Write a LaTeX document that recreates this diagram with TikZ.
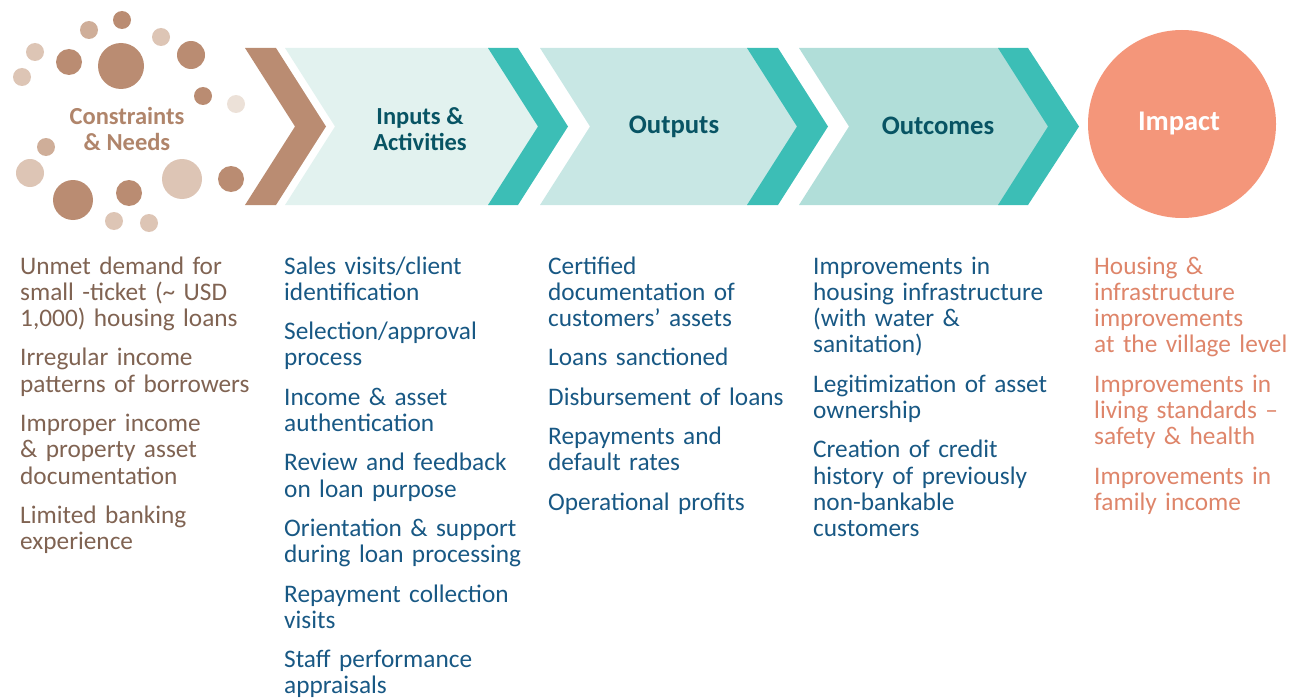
\documentclass[tikz,border=0pt]{standalone}
\usepackage{fontspec}
\setmainfont{Carlito}
\usepackage{xcolor}
\usepackage{tikz}

\definecolor{brownDark}{RGB}{186,140,114}
\definecolor{brownMid}{RGB}{207,174,153}
\definecolor{brownLight}{RGB}{221,197,181}
\definecolor{brownPale}{RGB}{236,225,216}
\definecolor{brownHead}{RGB}{176,133,107}
\definecolor{brownText}{RGB}{128,99,82}
\definecolor{tealDark}{RGB}{60,190,182}
\definecolor{tealHead}{RGB}{8,84,100}
\definecolor{blueText}{RGB}{24,88,132}
\definecolor{fillIn}{RGB}{226,242,239}
\definecolor{fillOut}{RGB}{200,231,228}
\definecolor{fillOutc}{RGB}{177,222,217}
\definecolor{impactFill}{RGB}{244,150,122}
\definecolor{impactText}{RGB}{222,133,106}

\begin{document}
\begin{tikzpicture}[
  x=1pt, y=-1pt,
  headnode/.style={
    align=center,
    inner sep=0pt,
    font=\fontsize{24.5}{26}\selectfont\bfseries,
    text=tealHead
  },
  bighead/.style={
    headnode,
    font=\fontsize{26.7}{28}\selectfont\bfseries
  },
  listnode/.style={
    align=left,
    anchor=base west,
    inner sep=0pt,
    text width=300pt,
    font=\fontsize{25.3}{26.3}\selectfont
  }
]
\useasboundingbox (0,0) rectangle (1297,698);

% Dots
\fill[brownDark]  (122,20) circle (9);
\fill[brownMid]   (89,30) circle (9);
\fill[brownLight] (161,37) circle (9);
\fill[brownLight] (35,52) circle (9);
\fill[brownDark]  (69,62) circle (13);
\fill[brownDark]  (121,66) circle (23);
\fill[brownDark]  (191,55) circle (14);
\fill[brownLight] (22,77) circle (9);
\fill[brownDark]  (203,96) circle (9);
\fill[brownPale]  (236,104) circle (9);
\fill[brownMid]   (46,147) circle (9);
\fill[brownLight] (30,173) circle (14);
\fill[brownLight] (182,179) circle (20);
\fill[brownDark]  (231,179) circle (13);
\fill[brownDark]  (73,200) circle (20);
\fill[brownDark]  (129,193) circle (13);
\fill[brownLight] (114,221) circle (9);
\fill[brownLight] (149,223) circle (9);

% Chevrons
\fill[brownDark] (245,48) -- (276,48) -- (326,126.5) -- (276,205) -- (245,205) -- (295,126.5) -- cycle;
\fill[fillIn] (285,48) -- (490,48) -- (540,126.5) -- (490,205) -- (285,205) -- (335,126.5) -- cycle;
\fill[tealDark] (488,48) -- (518,48) -- (568,126.5) -- (518,205) -- (488,205) -- (538,126.5) -- cycle;
\fill[fillOut] (540,48) -- (749,48) -- (799,126.5) -- (749,205) -- (540,205) -- (590,126.5) -- cycle;
\fill[tealDark] (747,48) -- (778,48) -- (828,126.5) -- (778,205) -- (747,205) -- (797,126.5) -- cycle;
\fill[fillOutc] (799,48) -- (1000,48) -- (1050,126.5) -- (1000,205) -- (799,205) -- (849,126.5) -- cycle;
\fill[tealDark] (998,48) -- (1028,48) -- (1079,126.5) -- (1028,205) -- (998,205) -- (1048,126.5) -- cycle;
\fill[impactFill] (1182,124) circle (94);

% Headings
\node[headnode, text=brownHead] (needs) at (127,129) {Constraints\\\& Needs};
\node[headnode] (inputs) at (420,129) {Inputs \&\\Activities};
\node[bighead] (outputs) at (674,127) {Outputs};
\node[bighead] (outcomes) at (938,126) {Outcomes};
\node[headnode, text=white, font=\fontsize{28.5}{30}\selectfont\bfseries] (impact) at (1179,123) {Impact};

% Lists
\node[listnode, text=brownText] (needslist) at (20,274) {%
Unmet demand for\\small -ticket (\textasciitilde{} USD\\1,000) housing loans\\[13pt]
Irregular income\\patterns of borrowers\\[13pt]
Improper income\\\& property asset\\documentation\\[13pt]
Limited banking\\experience};
\node[listnode, text=blueText] (inputslist) at (284,274) {%
Sales visits/client\\identification\\[13pt]
Selection/approval\\process\\[13pt]
Income \& asset\\authentication\\[13pt]
Review and feedback\\on loan purpose\\[13pt]
Orientation \& support\\during loan processing\\[13pt]
Repayment collection\\visits\\[13pt]
Staff performance\\appraisals};
\node[listnode, text=blueText] (outputslist) at (548,274) {%
Certified\\documentation of\\customers’ assets\\[13pt]
Loans sanctioned\\[13pt]
Disbursement of loans\\[13pt]
Repayments and\\default rates\\[13pt]
Operational profits};
\node[listnode, text=blueText] (outcomeslist) at (813,274) {%
Improvements in\\housing infrastructure\\(with water \&\\sanitation)\\[13pt]
Legitimization of asset\\ownership\\[13pt]
Creation of credit\\history of previously\\non-bankable\\customers};
\node[listnode, text=impactText] (impactlist) at (1094,274) {%
Housing \&\\infrastructure\\improvements\\at the village level\\[13pt]
Improvements in\\living standards –\\safety \& health\\[13pt]
Improvements in\\family income};

\end{tikzpicture}
\end{document}
